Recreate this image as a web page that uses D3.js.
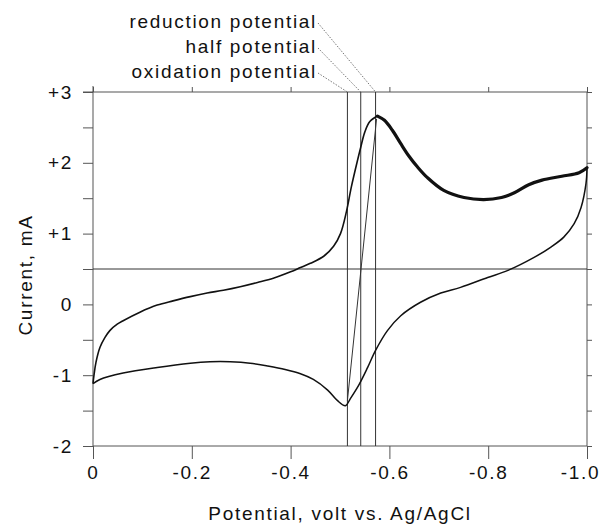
<!DOCTYPE html>
<html>
<head>
<meta charset="utf-8">
<script src="https://cdn.jsdelivr.net/npm/d3@7"></script>
<style>
  html, body { margin: 0; padding: 0; background: #fff; }
  svg text { font-family: "Liberation Sans", Arial, sans-serif; fill: #111; letter-spacing: 1.7px; }
</style>
</head>
<body>
<svg id="chart" width="601" height="526"></svg>
<script>
// ---- data ----
// forward sweep (0 -> -1.0 V): [potential, current mA]
const forwardSweep = [
  [0, -1.12], [-0.002, -1.00], [-0.006, -0.82], [-0.014, -0.61], [-0.024, -0.47],
  [-0.034, -0.37], [-0.049, -0.28], [-0.061, -0.23], [-0.095, -0.11], [-0.130, -0.01],
  [-0.162, 0.05], [-0.197, 0.11], [-0.231, 0.16], [-0.264, 0.20], [-0.298, 0.25],
  [-0.333, 0.31], [-0.365, 0.37], [-0.400, 0.46], [-0.420, 0.52], [-0.440, 0.58],
  [-0.467, 0.68], [-0.487, 0.82], [-0.501, 1.00], [-0.513, 1.31], [-0.523, 1.66],
  [-0.536, 2.05], [-0.542, 2.22], [-0.550, 2.43], [-0.560, 2.58], [-0.576, 2.66],
  [-0.590, 2.60], [-0.606, 2.46], [-0.623, 2.27], [-0.639, 2.10], [-0.657, 1.94],
  [-0.677, 1.79], [-0.710, 1.61], [-0.751, 1.51], [-0.791, 1.48], [-0.827, 1.51],
  [-0.854, 1.58], [-0.882, 1.69], [-0.909, 1.755], [-0.949, 1.81], [-0.984, 1.86], [-1.0, 1.93]
];
// reverse sweep (-1.0 -> 0 V)
const reverseSweep = [
  [-1.0, 1.93], [-0.998, 1.71], [-0.988, 1.37], [-0.974, 1.14], [-0.953, 0.95],
  [-0.927, 0.81], [-0.892, 0.66], [-0.840, 0.48], [-0.799, 0.38], [-0.744, 0.24],
  [-0.704, 0.16], [-0.663, 0.03], [-0.623, -0.16], [-0.596, -0.37], [-0.572, -0.65],
  [-0.556, -0.89], [-0.538, -1.14], [-0.521, -1.33], [-0.511, -1.43], [-0.495, -1.36],
  [-0.475, -1.21], [-0.446, -1.06], [-0.420, -0.98], [-0.389, -0.92], [-0.353, -0.87],
  [-0.318, -0.83], [-0.278, -0.81], [-0.237, -0.81], [-0.197, -0.83], [-0.130, -0.89],
  [-0.061, -0.97], [-0.014, -1.06], [0, -1.12]
];
// marked potentials (vertical lines) and labels
const markerNames = ["reduction potential", "half potential", "oxidation potential"];
const markerPotentials = [-0.572, -0.542, -0.515];
const halfCurrent = 0.5;
// straight line joining cathodic and anodic peaks
const peakLine = [[-0.515, -1.36], [-0.574, 2.62]];
// ticks
const xTicks = [0, -0.2, -0.4, -0.6, -0.8, -1.0];
const xTickLabels = ["0", "-0.2", "-0.4", "-0.6", "-0.8", "-1.0"];
const yTicks = [-2, -1.5, -1, -0.5, 0, 0.5, 1, 1.5, 2, 2.5, 3];
const yMajor = [-2, -1, 0, 1, 2, 3];
const yTickLabels = ["-2", "-1", "0", "+1", "+2", "+3"];
const xTitle = "Potential, volt vs. Ag/AgCl";
const yTitle = "Current, mA";

// ---- drawing ----
const svg = d3.select("#chart");
const L = 93, R = 587, T = 92, B = 446;
const x = d3.scaleLinear().domain([0, -1]).range([L, R]);
const y = d3.scaleLinear().domain([-2, 3]).range([B, T]);
const axisColor = "#555";

// bottom axis
const gx = svg.append("g").attr("transform", `translate(0,${B})`)
  .call(d3.axisBottom(x).tickValues(xTicks).tickSize(13).tickPadding(7)
    .tickFormat((d, i) => xTickLabels[i]));
// top axis
const gxt = svg.append("g").attr("transform", `translate(0,${T})`)
  .call(d3.axisTop(x).tickValues(xTicks).tickSize(5).tickFormat(""));
// left axis
const gy = svg.append("g").attr("transform", `translate(${L},0)`)
  .call(d3.axisLeft(y).tickValues(yTicks).tickSize(10).tickPadding(12)
    .tickFormat(d => { const i = yMajor.indexOf(d); return i >= 0 ? yTickLabels[i] : ""; }));
// right axis
const gyr = svg.append("g").attr("transform", `translate(${R},0)`)
  .call(d3.axisLeft(y).tickValues(yTicks).tickSize(-5).tickFormat(""));

[gx, gxt, gy, gyr].forEach(g => {
  g.select(".domain").remove();
  g.selectAll("line").attr("stroke", axisColor).attr("stroke-width", 1);
  g.selectAll("text").attr("font-size", 19).attr("fill", "#111")
    .attr("font-family", "Liberation Sans, Arial, sans-serif");
});
gy.selectAll("text").attr("dx", 2);
// last x label sits against the right edge of the picture
gx.selectAll(".tick text").filter(d => d === xTicks[xTicks.length - 1]).attr("dx", -7);

// frame
svg.append("rect").attr("x", L).attr("y", T).attr("width", R - L).attr("height", B - T)
  .attr("fill", "none").attr("stroke", axisColor).attr("stroke-width", 1);
svg.append("line").attr("x1", L - 10).attr("x2", L).attr("y1", T).attr("y2", T).attr("stroke", axisColor);
svg.append("line").attr("x1", L).attr("x2", L).attr("y1", T - 6).attr("y2", T).attr("stroke", axisColor);

// reference lines
svg.append("line").attr("x1", L).attr("x2", R).attr("y1", y(halfCurrent)).attr("y2", y(halfCurrent))
  .attr("stroke", "#333").attr("stroke-width", 1);
svg.selectAll(".vline").data(markerPotentials).enter().append("line")
  .attr("x1", d => x(d)).attr("x2", d => x(d)).attr("y1", T).attr("y2", B)
  .attr("stroke", "#333").attr("stroke-width", 1);
svg.append("line")
  .attr("x1", x(peakLine[0][0])).attr("y1", y(peakLine[0][1]))
  .attr("x2", x(peakLine[1][0])).attr("y2", y(peakLine[1][1]))
  .attr("stroke", "#333").attr("stroke-width", 1);

// curves
const line = d3.line().x(d => x(d[0])).y(d => y(d[1])).curve(d3.curveCatmullRom.alpha(0.5));
const peakIdx = d3.maxIndex(forwardSweep, d => d[1]);
svg.append("path").attr("d", line(reverseSweep)).attr("fill", "none")
  .attr("stroke", "#111").attr("stroke-width", 1.5);
svg.append("path").attr("d", line(forwardSweep.slice(0, peakIdx + 1))).attr("fill", "none")
  .attr("stroke", "#111").attr("stroke-width", 1.6);
svg.append("path").attr("d", line(forwardSweep.slice(peakIdx))).attr("fill", "none")
  .attr("stroke", "#111").attr("stroke-width", 3.2).attr("stroke-linecap", "round");

// labels with leader lines
const labelBase = [28, 53, 78];
markerNames.forEach((name, i) => {
  svg.append("text").attr("x", 317).attr("y", labelBase[i]).attr("text-anchor", "end")
    .attr("font-size", 19).text(name);
  svg.append("line").attr("x1", 318).attr("y1", labelBase[i] - 5)
    .attr("x2", x(markerPotentials[i])).attr("y2", T)
    .attr("stroke", "#777").attr("stroke-width", 1).attr("stroke-dasharray", "1.5,1.5");
});

// axis titles
svg.append("text").attr("x", (L + R) / 2).attr("y", 520).attr("text-anchor", "middle")
  .attr("font-size", 19).text(xTitle);
svg.append("text").attr("transform", `translate(32,${275}) rotate(-90)`).attr("text-anchor", "middle")
  .attr("font-size", 19).text(yTitle);
</script>
</body>
</html>
